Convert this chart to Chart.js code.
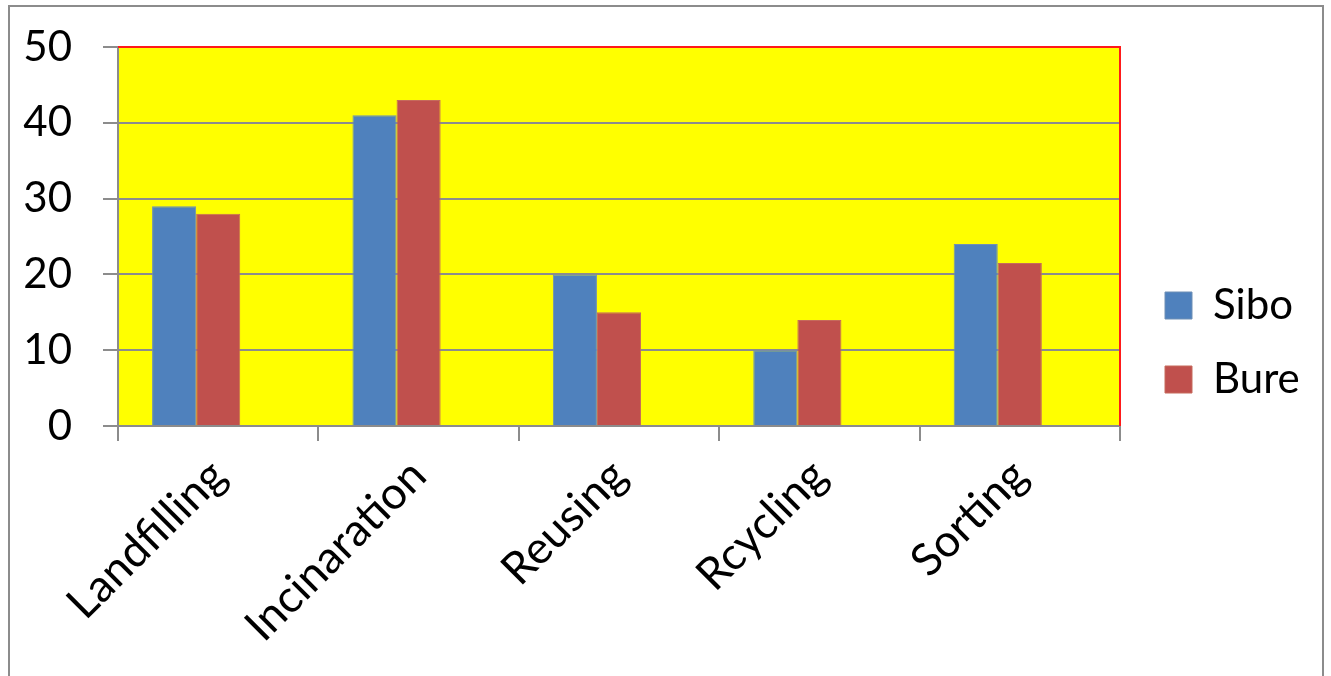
<!DOCTYPE html>
<html>
<head>
<meta charset="utf-8">
<script src="https://cdn.jsdelivr.net/npm/chart.js@4.4.1/dist/chart.umd.min.js"></script>
<style>
  html, body { margin: 0; padding: 0; background: #fff; }
  #wrap { position: relative; width: 1331px; height: 676px; overflow: hidden; }
  #frame { position: absolute; left: 8px; top: 5px; width: 1316px; height: 700px;
           border: 2px solid #8c8c8c; box-sizing: border-box; }
  #chart { position: absolute; left: 0; top: 0; }
</style>
</head>
<body>
<div id="wrap">
  <div id="frame"></div>
  <canvas id="chart" width="1331" height="676"></canvas>
</div>
<script>
const categories = ['Landfilling', 'Incinaration', 'Reusing', 'Rcycling', 'Sorting'];
const sibo = [29, 41, 20, 10, 24];
const bure = [28, 43, 15, 14, 21.5];
const yTicks = [0, 10, 20, 30, 40, 50];

const FONT = 'Lato, Calibri, Carlito, sans-serif';

// yellow plot area, red edge on top and right like the original
const plotArea = {
    id: 'plotArea',
    beforeDraw(chart) {
        const {ctx, chartArea: a} = chart;
        ctx.save();
        ctx.fillStyle = '#ffff00';
        ctx.fillRect(a.left, a.top, a.right - a.left, a.bottom - a.top);
        ctx.restore();
    },
    afterDraw(chart) {
        const {ctx, chartArea: a} = chart;
        ctx.save();
        ctx.strokeStyle = '#ff1a1a';
        ctx.lineWidth = 2;
        ctx.beginPath();
        ctx.moveTo(a.left, a.top);
        ctx.lineTo(a.right, a.top);
        ctx.lineTo(a.right, a.bottom);
        ctx.stroke();
        ctx.restore();
    }
};

// fixed legend width so the plot area ends where the original does,
// then nudge the legend a bit right and up
const legendPlace = {
    id: 'legendPlace',
    afterInit(chart) {
        const lg = chart.legend;
        const fit = lg.fit.bind(lg);
        lg.fit = function () { fit(); this.width = 211; };
    },
    afterLayout(chart) {
        const lg = chart.legend;
        lg.left += 13; lg.right += 13;
        lg.top -= 19; lg.bottom -= 19;
    }
};

const ctx = document.getElementById('chart').getContext('2d');
const chart = new Chart(ctx, {
    type: 'bar',
    data: {
        labels: categories,
        datasets: [{
            label: 'Sibo',
            backgroundColor: '#4f81bd',
            borderColor: '#6f8fb5',
            borderWidth: 1,
            data: sibo
        },
        {
            label: 'Bure',
            backgroundColor: '#c0504d',
            borderColor: '#c66a5c',
            borderWidth: 1,
            data: bure
        },
        {
            // empty third slot, as in the original workbook
            label: '',
            backgroundColor: 'rgba(0,0,0,0)',
            data: []
        }]
    },
    plugins: [plotArea, legendPlace],
    options: {
        responsive: false,
        animation: false,
        layout: { padding: { left: 0, top: 47, right: 0, bottom: 0 } },
        datasets: { bar: { categoryPercentage: 0.66, barPercentage: 1.0 } },
        plugins: {
            tooltip: { enabled: false },
            legend: {
                position: 'right',
                labels: {
                    color: '#000',
                    font: { family: FONT, size: 42 },
                    boxWidth: 27,
                    boxHeight: 27,
                    padding: 32,
                    filter: item => item.text !== ''
                }
            }
        },
        scales: {
            x: {
                afterFit(s) { s.height = 250; s.paddingLeft = 0; s.paddingRight = 0; },
                grid: { offset: true, drawOnChartArea: false, color: '#8c8c8c', lineWidth: 2, tickLength: 15 },
                border: { color: '#8c8c8c', width: 2 },
                ticks: {
                    color: '#000',
                    font: { family: FONT, size: 45 },
                    minRotation: 45,
                    maxRotation: 45,
                    padding: 8
                }
            },
            y: {
                min: 0,
                max: 50,
                afterFit(s) { s.width = 118; s.paddingTop = 0; s.paddingBottom = 0; },
                afterBuildTicks(s) { s.ticks = yTicks.map(v => ({value: v})); },
                grid: { color: '#8c8c8c', lineWidth: 2, tickLength: 15 },
                border: { color: '#8c8c8c', width: 2 },
                ticks: {
                    color: '#000',
                    font: { family: FONT, size: 42 },
                    padding: 31
                }
            }
        }
    }
});
</script>
</body>
</html>
